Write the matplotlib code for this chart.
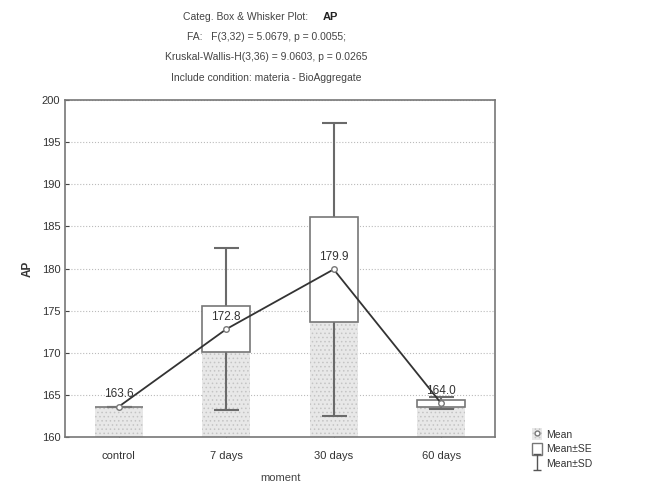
import matplotlib.pyplot as plt
import numpy as np
from matplotlib.patches import Rectangle, Patch
from matplotlib.lines import Line2D
from matplotlib.path import Path

# Data
groups = ['control', '7 days', '30 days', '60 days']
means = [163.6, 172.8, 179.9, 164.0]
se = [0.0, 2.7, 6.2, 0.4]
sd = [0.0, 9.6, 17.4, 0.7]
yticks = [160, 165, 170, 175, 180, 185, 190, 195, 200]

plt.rcParams['font.family'] = 'Liberation Sans'
plt.rcParams['hatch.color'] = '#c4c4c4'
plt.rcParams['hatch.linewidth'] = 0.6

fig = plt.figure(figsize=(6.58, 4.86), dpi=100)
ax = fig.add_axes([0.099, 0.101, 0.653, 0.693])

x = np.arange(len(groups))
w = 0.45

# Mean bars (stippled grey)
ax.bar(x, means, width=w, color='#e8e8e8', hatch='....', linewidth=0, zorder=1)

# SD whiskers
ax.errorbar(x, means, yerr=sd, fmt='none', ecolor='#6a6a6a', elinewidth=1.5,
            capsize=9, capthick=1.5, zorder=2)

# SE boxes
for xi, m, s in zip(x, means, se):
    ax.add_patch(Rectangle((xi - w / 2, m - s), w, 2 * s, facecolor='white',
                           edgecolor='#777777', linewidth=1.2, zorder=3))

# Mean line with markers
ax.plot(x, means, color='#333333', linewidth=1.3, zorder=4)
ax.plot(x, means, linestyle='none', marker='o', markersize=4,
        markerfacecolor='white', markeredgecolor='#777777', zorder=5)

for xi, m in zip(x, means):
    ax.annotate(f'{m:.1f}', (xi, m), xytext=(0, 9), textcoords='offset points',
                ha='center', va='center', fontsize=8.5, color='#333333', zorder=6)

ax.set_xlim(-0.5, 3.5)
ax.set_ylim(160, 200)
ax.set_yticks(yticks)
ax.set_xticks(x)
ax.set_xticklabels(groups)
ax.tick_params(direction='in', length=3, labelsize=8, colors='#444444',
               width=0.8)
ax.tick_params(axis='x', pad=10)
for t in ax.get_xticklabels() + ax.get_yticklabels():
    t.set_color('#333333')
ax.grid(axis='y', linestyle=':', color='#bbbbbb', linewidth=0.8)
ax.set_axisbelow(True)
for sp in ax.spines.values():
    sp.set_color('#777777')
    sp.set_linewidth(1.2)

ax.set_ylabel('AP', fontsize=8.5, fontweight='bold', color='#333333', labelpad=6)
ax.set_xlabel('moment', fontsize=8, color='#444444', labelpad=9)

# Title block
fig.text(0.468, 0.966, 'Categ. Box & Whisker Plot:', ha='right', va='center',
         fontsize=7.5, color='#444444')
fig.text(0.49, 0.966, 'AP', ha='left', va='center', fontsize=8,
         fontweight='bold', color='#222222')
fig.text(0.405, 0.924, 'FA:   F(3,32) = 5.0679, p = 0.0055;', ha='center',
         va='center', fontsize=7.5, color='#444444')
fig.text(0.405, 0.883, 'Kruskal-Wallis-H(3,36) = 9.0603, p = 0.0265', ha='center',
         va='center', fontsize=7.5, color='#444444')
fig.text(0.405, 0.840, 'Include condition: materia - BioAggregate', ha='center',
         va='center', fontsize=7.5, color='#444444')

# Legend
sd_path = Path([(-0.5, 1), (0.5, 1), (0, 1), (0, -1), (-0.5, -1), (0.5, -1)],
               [Path.MOVETO, Path.LINETO, Path.MOVETO, Path.LINETO,
                Path.MOVETO, Path.LINETO])
h_mean = (Patch(facecolor='#e8e8e8', hatch='....', linewidth=0),
          Line2D([], [], linestyle='none', marker='o', markersize=3.5,
                 markerfacecolor='white', markeredgecolor='#777777'))
h_se = Patch(facecolor='white', edgecolor='#777777', linewidth=1)
h_sd = Line2D([], [], linestyle='none', marker=sd_path, markersize=12,
              markeredgecolor='#555555', markeredgewidth=1)
fig.legend([h_mean, h_se, h_sd], ['Mean', 'Mean±SE', 'Mean±SD'],
           loc='lower left', bbox_to_anchor=(0.795, 0.015), frameon=False,
           fontsize=7.5, handlelength=0.9, handleheight=1.4, handletextpad=0.4,
           labelspacing=0.25, labelcolor='#333333')

fig.savefig('out.png', dpi=100)
